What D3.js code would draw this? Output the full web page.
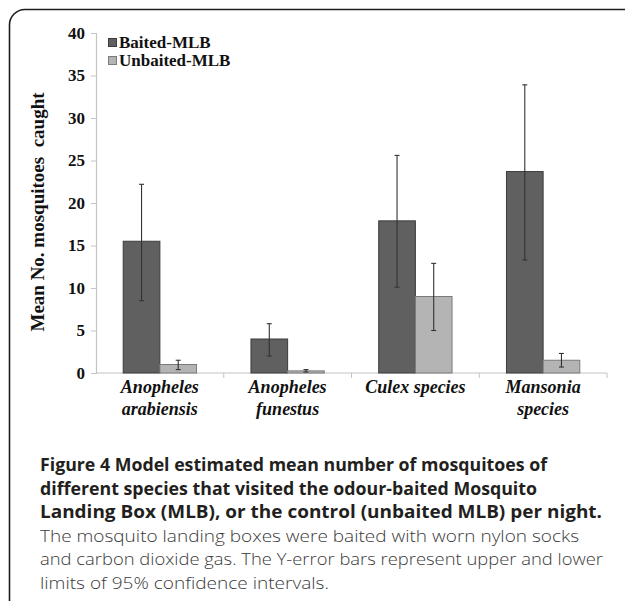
<!DOCTYPE html>
<html>
<head>
<meta charset="utf-8">
<script src="https://cdn.jsdelivr.net/npm/d3@7"></script>
<style>
  html, body { margin: 0; padding: 0; background: #fff; }
  svg { display: block; }
</style>
</head>
<body>
<svg id="chart" width="625" height="601"></svg>
<script>
// ---- data ----
const categories = ["Anopheles arabiensis", "Anopheles funestus", "Culex species", "Mansonia species"];
const categoryLines = [["Anopheles", "arabiensis"], ["Anopheles", "funestus"], ["Culex species"], ["Mansonia", "species"]];
const seriesNames = ["Baited-MLB", "Unbaited-MLB"];
const baited = [15.5, 4.0, 17.9, 23.7];
const baitedLower = [8.5, 2.0, 10.1, 13.3];
const baitedUpper = [22.2, 5.8, 25.6, 33.9];
const unbaited = [1.0, 0.25, 9.0, 1.5];
const unbaitedLower = [0.4, 0.12, 5.0, 0.7];
const unbaitedUpper = [1.5, 0.4, 12.9, 2.3];
const yTicks = [0, 5, 10, 15, 20, 25, 30, 35, 40];
const yTitle = "Mean No. mosquitoes  caught";
const captionBold = [
  "Figure 4 Model estimated mean number of mosquitoes of",
  "different species that visited the odour-baited Mosquito",
  "Landing Box (MLB), or the control (unbaited MLB) per night."
];
const captionNormal = [
  "The mosquito landing boxes were baited with worn nylon socks",
  "and carbon dioxide gas. The Y-error bars represent upper and lower",
  "limits of 95% confidence intervals."
];

const colors = { "Baited-MLB": "#606060", "Unbaited-MLB": "#b4b4b4" };
const strokes = { "Baited-MLB": "#3c3c3c", "Unbaited-MLB": "#7a7a7a" };

const rows = [];
categories.forEach((c, i) => {
  rows.push({ cat: c, series: "Baited-MLB", v: baited[i], lo: baitedLower[i], hi: baitedUpper[i] });
  rows.push({ cat: c, series: "Unbaited-MLB", v: unbaited[i], lo: unbaitedLower[i], hi: unbaitedUpper[i] });
});

const svg = d3.select("#chart");

// frame
svg.append("path")
  .attr("d", "M9.5,601 V25 A15.5,15.5 0 0 1 25,9.5 H625")
  .attr("fill", "none").attr("stroke", "#1e1e1e").attr("stroke-width", 1.6);

const x0 = d3.scaleBand().domain(categories).range([96, 607]).padding(0);
const x1 = d3.scaleBand().domain(seriesNames).range([0, x0.bandwidth()]).paddingInner(0).paddingOuter(0.742);
const y = d3.scaleLinear().domain([0, 40]).range([373, 33]);

const serif = "'Liberation Serif', 'Times New Roman', serif";

// y axis
const yAxis = d3.axisLeft(y).tickValues(yTicks).tickSize(5).tickPadding(6);
const gy = svg.append("g").attr("transform", "translate(96,0)").call(yAxis);
gy.select(".domain").attr("stroke", "#c4c4c4").attr("stroke-width", 1.2);
gy.selectAll(".tick line").attr("stroke", "#c4c4c4");
gy.selectAll(".tick text")
  .attr("font-family", serif).attr("font-weight", "bold").attr("font-size", 17).attr("fill", "#111");

// x axis: ticks at category boundaries
const xBoundaries = categories.map(c => x0(c)).concat([x0(categories[categories.length - 1]) + x0.bandwidth()]);
const gx = svg.append("g");
gx.append("line").attr("x1", 96).attr("x2", 607).attr("y1", y(0)).attr("y2", y(0))
  .attr("stroke", "#c4c4c4").attr("stroke-width", 1.2);
gx.selectAll("line.tk").data(xBoundaries.slice(1)).join("line").attr("class", "tk")
  .attr("x1", d => d).attr("x2", d => d).attr("y1", y(0)).attr("y2", y(0) + 5)
  .attr("stroke", "#c4c4c4");

// bars
svg.append("g").selectAll("rect").data(rows).join("rect")
  .attr("x", d => x0(d.cat) + x1(d.series))
  .attr("y", d => y(d.v))
  .attr("width", x1.bandwidth())
  .attr("height", d => y(0) - y(d.v))
  .attr("fill", d => colors[d.series])
  .attr("stroke", d => strokes[d.series]).attr("stroke-width", 1);

// error bars
const eg = svg.append("g").selectAll("g").data(rows).join("g")
  .attr("transform", d => `translate(${x0(d.cat) + x1(d.series) + x1.bandwidth() / 2},0)`);
eg.append("line").attr("x1", 0).attr("x2", 0).attr("y1", d => y(d.lo)).attr("y2", d => y(d.hi))
  .attr("stroke", "#333").attr("stroke-width", 1.1);
eg.append("line").attr("x1", -2.5).attr("x2", 2.5).attr("y1", d => y(d.hi)).attr("y2", d => y(d.hi))
  .attr("stroke", "#333").attr("stroke-width", 1.1);
eg.append("line").attr("x1", -2.5).attr("x2", 2.5).attr("y1", d => y(d.lo)).attr("y2", d => y(d.lo))
  .attr("stroke", "#333").attr("stroke-width", 1.1);

// x labels
const xl = svg.append("g").selectAll("text").data(categories).join("text")
  .attr("x", d => x0(d) + x0.bandwidth() / 2)
  .attr("y", 393)
  .attr("text-anchor", "middle")
  .attr("font-family", serif).attr("font-weight", "bold").attr("font-style", "italic")
  .attr("font-size", 18).attr("fill", "#111");
xl.each(function(d, i) {
  const t = d3.select(this);
  categoryLines[i].forEach((ln, j) => {
    t.append("tspan").attr("x", x0(d) + x0.bandwidth() / 2).attr("dy", j === 0 ? 0 : 22).text(ln);
  });
});

// y title
svg.append("text")
  .attr("transform", "translate(44,212) rotate(-90)")
  .attr("text-anchor", "middle")
  .attr("font-family", serif).attr("font-weight", "bold").attr("font-size", 19).attr("fill", "#111")
  .attr("xml:space", "preserve").style("white-space", "pre")
  .text(yTitle);

// legend
const lg = svg.append("g").selectAll("g").data(seriesNames).join("g")
  .attr("transform", (d, i) => `translate(108,${38 + i * 18})`);
lg.append("rect").attr("width", 8).attr("height", 8).attr("x", 0.5).attr("y", 0.5)
  .attr("fill", d => colors[d]).attr("stroke", d => strokes[d]).attr("stroke-width", 1);
lg.append("text").attr("x", 11).attr("y", 10)
  .attr("font-family", serif).attr("font-weight", "bold").attr("font-size", 17).attr("fill", "#111")
  .text(d => d);

// caption
const sans = "'Open Sans', 'Noto Sans', sans-serif";
const boldWidths = [507, 497, 562];
const normalWidths = [539, 563, 289];
svg.append("g").selectAll("text").data(captionBold).join("text")
  .attr("x", 40).attr("y", (d, i) => 471 + i * 23.5)
  .attr("font-family", sans).attr("font-weight", "bold").attr("font-size", 17.2).attr("fill", "#231f20")
  .attr("textLength", (d, i) => boldWidths[i]).attr("lengthAdjust", "spacingAndGlyphs")
  .text(d => d);
svg.append("g").selectAll("text").data(captionNormal).join("text")
  .attr("x", 40).attr("y", (d, i) => 541.5 + i * 23.5)
  .attr("font-family", sans).attr("font-weight", 300).attr("font-size", 17.2).attr("fill", "#3a3a3a")
  .attr("textLength", (d, i) => normalWidths[i]).attr("lengthAdjust", "spacingAndGlyphs")
  .text(d => d);
</script>
</body>
</html>
